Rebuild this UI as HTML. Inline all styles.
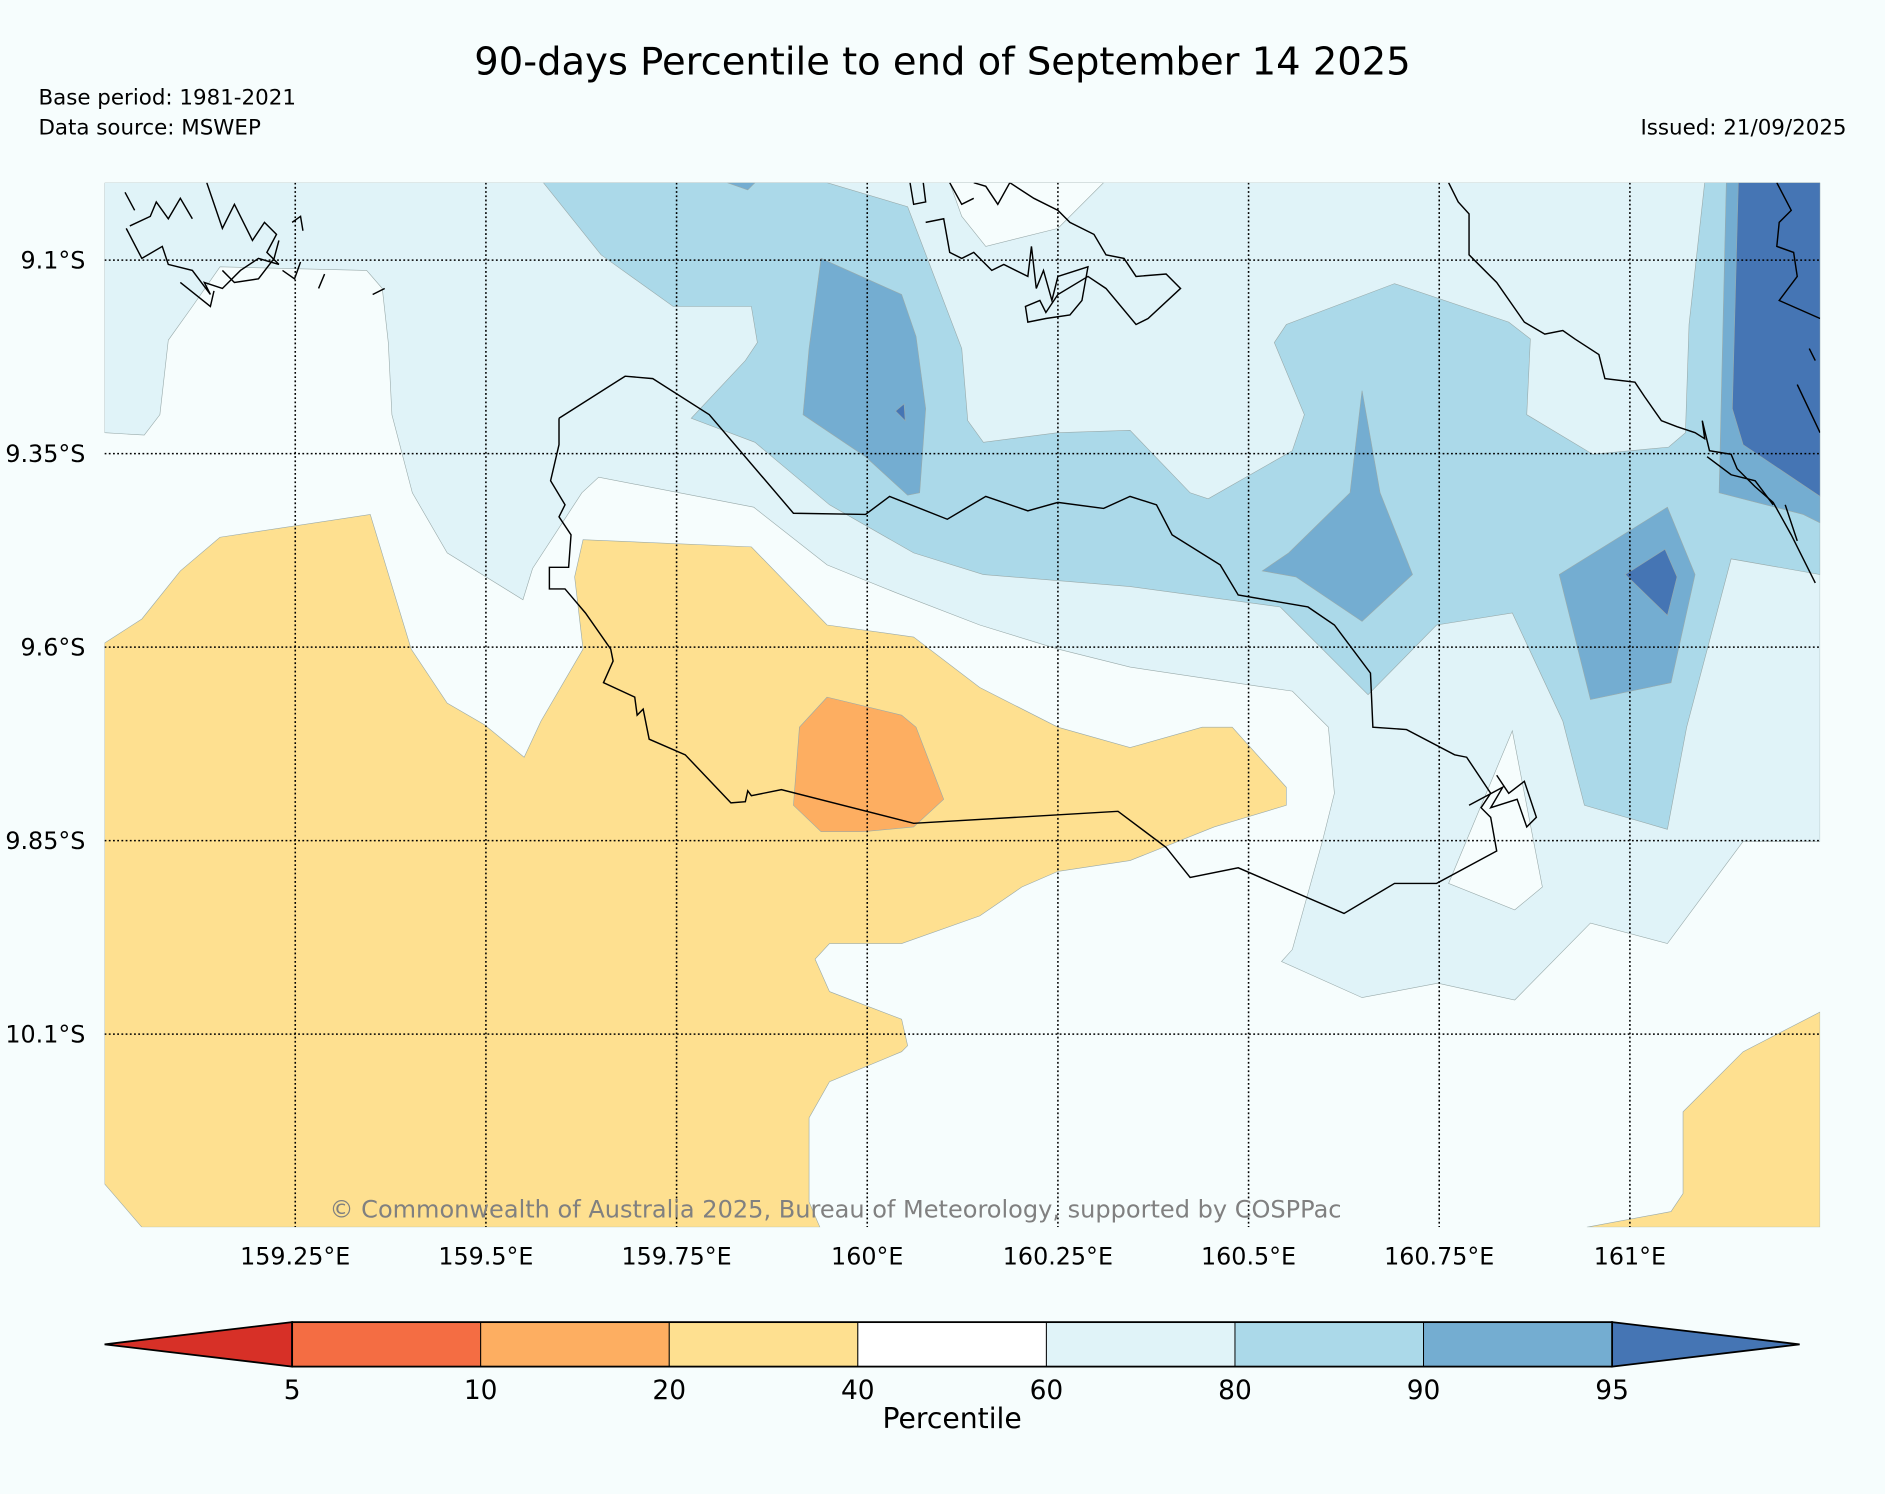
<!DOCTYPE html>
<html><head><meta charset="utf-8"><style>
html,body{margin:0;padding:0;background:#f6fdfd;}
svg{display:block;font-family:"DejaVu Sans","Liberation Sans",sans-serif;}
</style></head><body>
<svg id="chart" width="1885" height="1494" viewBox="0 0 1568 1243" preserveAspectRatio="none" xmlns="http://www.w3.org/2000/svg">
<rect x="0" y="0" width="1568" height="1243" fill="#f6fdfd"/>
<text x="784" y="62" text-anchor="middle" font-size="32" fill="#000">90-days Percentile to end of September 14 2025</text>
<text x="32" y="87" font-size="17.8" fill="#000">Base period: 1981-2021</text>
<text x="32" y="112" font-size="17.8" fill="#000">Data source: MSWEP</text>
<text x="1536" y="112" text-anchor="end" font-size="17.8" fill="#000">Issued: 21/09/2025</text>
<defs><clipPath id="mapclip"><rect x="87" y="152" width="1427" height="869"/></clipPath></defs>
<g id="map" clip-path="url(#mapclip)">
<rect x="87" y="152" width="1427" height="869" fill="#f6fdfd"/>
<g id="fills" stroke="#9aa" stroke-width="0.5"></g>
<g id="coasts" fill="none" stroke="#000" stroke-width="1.2"></g>
<g id="grid"></g>
</g>
<g id="ticks"></g>
<text x="695" y="1013" text-anchor="middle" font-size="20" fill="#808080">© Commonwealth of Australia 2025, Bureau of Meteorology, supported by COSPPac</text>
<g id="colorbar"></g>
<text x="792" y="1188" text-anchor="middle" font-size="23.5" fill="#000">Percentile</text>
</svg>
<script>
const lonTicks=[159.25,159.5,159.75,160,160.25,160.5,160.75,161];
const lonLabels=["159.25°E","159.5°E","159.75°E","160°E","160.25°E","160.5°E","160.75°E","161°E"];
const latTicks=[9.1,9.35,9.6,9.85,10.1];
const latLabels=["9.1°S","9.35°S","9.6°S","9.85°S","10.1°S"];
const bounds=[5,10,20,40,60,80,90,95];
const binColors=["#f46d43","#fdae61","#fee090","#ffffff","#e0f3f8","#abd9e9","#74add1"];
const underColor="#d73027", overColor="#4575b4";
const NS="http://www.w3.org/2000/svg";
function lonX(l){return 87+(l-159)*634.4;}
function latY(l){return 152+(l-9)*644;}
function mk(tag,attrs,parent){const e=document.createElementNS(NS,tag);for(const k in attrs)e.setAttribute(k,attrs[k]);parent.appendChild(e);return e;}
const fills=document.getElementById('fills');
const shapes=[
["band-60-80-fill","#e0f3f8","87,152 1514,152 1514,700 1450,700 1387,785 1323,768 1260,832 1196,818 1133,830 1066,800 1075,790 1100,700 1110,660 1105,605 1075,575 1040,570 940,555 880,540 815,520 745,493 688,470 627,422 498,397 484,410 443,473 435,499 372,460 343,410 326,345 323,285 318,240 305,225 183,222 160,255 140,283 133,345 120,362 87,360"],
["band-40-60-hole-north","#f6fdfd","790,152 800,180 820,205 880,190 918,152"],
["band-40-60-hole-east","#f6fdfd","1205,735 1258,608 1283,738 1260,757"],
["band-80-90-fill","#abd9e9","452,152 500,212 560,255 625,255 630,285 620,300 575,348 628,368 690,420 760,460 818,478 940,488 1065,505 1138,578 1195,520 1258,510 1300,600 1318,670 1387,690 1403,605 1440,465 1514,478 1514,152 1418,152 1405,270 1402,360 1388,372 1325,378 1270,345 1273,282 1255,268 1160,236 1070,270 1060,285 1085,345 1075,375 1005,415 990,410 940,358 880,360 818,368 805,350 800,290 755,172 688,152"],
["band-90-95-west","#74add1","683,215 750,245 762,280 770,340 765,410 755,412 720,380 668,345 673,290"],
["band-90-95-central","#74add1","1133,325 1148,410 1175,478 1133,517 1078,480 1050,475 1072,460 1123,410"],
["band-90-95-south-east","#74add1","1297,478 1387,422 1410,478 1390,568 1323,582"],
["band-90-95-east","#74add1","1436,152 1430,410 1500,428 1514,435 1514,152"],
["band-90-95-top","#74add1","605,152 628,152 622,158"],
["band-above-95-east","#4575b4","1446,152 1441,340 1450,370 1514,413 1514,152"],
["band-above-95-south-east","#4575b4","1352,478 1385,457 1395,480 1387,512"],
["band-above-95-small","#4575b4","745,342 752,336 753,350"],
["band-20-40-west","#fee090","87,535 118,515 150,475 183,447 308,428 342,540 372,585 403,603 436,630 450,600 485,540 478,480 485,449 625,455 688,520 760,530 815,572 880,605 940,622 1000,605 1025,605 1070,655 1070,670 1010,688 940,716 880,725 850,738 815,762 750,785 690,785 678,798 690,825 750,848 755,870 750,875 690,900 673,930 673,1000 682,1021 118,1021 87,985"],
["band-20-40-south-east","#fee090","1320,1021 1390,1008 1400,993 1400,925 1450,875 1514,842 1514,1021"],
["band-10-20-fill","#fdae61","688,580 750,595 762,605 785,665 760,688 718,692 683,692 660,670 665,605"]
];
shapes.forEach(s=>{const p=mk('polygon',{points:s[2],fill:s[1]},fills);

});
const coasts=document.getElementById('coasts');
const lines=[
["coastline-main-island","465,348 520,313 543,315 590,345 660,427 720,428 740,413 788,432 820,413 855,425 880,418 918,423 940,413 962,420 975,445 1015,470 1030,495 1088,505 1110,520 1140,560 1142,605 1170,607 1210,628 1220,630 1240,660 1232,672 1240,680 1245,708 1195,735 1160,735 1118,760 1030,722 990,730 970,705 930,675 760,685 650,657 625,662 622,658 620,667 608,668 570,628 540,615 535,590 530,595 528,580 502,568 510,550 508,540 487,510 470,490 457,490 457,472 473,472 475,445 465,430 470,420 458,400 465,370 465,348"],
["coastline-east-islet","1222,670 1250,655 1240,672 1262,665 1270,688 1278,680 1268,650 1255,660 1245,645"],
["coastline-north-west-islands","105,190 118,215 135,205 140,220 160,225 175,245 170,235 185,240 200,225 215,215 232,220 222,210 230,195 220,185 210,200 195,170 185,190 172,152 M160,182 150,165 140,182 130,168 125,180 108,188 M104,160 112,175 M150,235 175,255 178,242 M235,225 245,232 250,218 M265,240 270,228 M310,245 320,240 M243,185 250,180 252,192 M185,225 195,235 215,232 228,215 232,200"],
["coastline-north-central-island","757,152 760,170 770,168 768,152 M770,185 785,182 790,210 800,215 810,210 825,225 835,220 855,230 858,205 862,240 868,225 875,250 880,230 905,222 900,250 890,262 870,265 855,268 853,255 865,250 870,260 880,245 905,230 920,240 945,270 955,265 982,240 970,228 945,230 935,215 920,212 910,195 890,185 880,175 860,165 840,152 830,170 820,155 810,152 M790,152 800,170 810,165"],
["coastline-east-coast","1205,152 1213,168 1222,178 1222,212 1245,235 1268,268 1285,278 1300,275 1310,282 1330,295 1335,315 1360,318 1368,330 1382,350 1395,355 1410,360 1418,365 1416,350 1422,375 1440,378 1445,390 1460,405 1475,418 1490,445 1510,485"],
["coastline-far-east","1478,152 1490,175 1480,185 1478,205 1492,210 1495,230 1480,250 1514,265 M1505,290 1510,300 M1495,320 1514,360 M1420,380 1440,395 1460,400 1475,420 M1485,420 1495,450"]
];
lines.forEach(l=>{const p=mk('path',{d:'M'+l[1].replace(/M/g,' M ')},coasts);

});
const grid=document.getElementById('grid'), ticks=document.getElementById('ticks');
lonTicks.forEach((v,i)=>{const x=lonX(v);
const g=mk('line',{x1:x,x2:x,y1:152,y2:1021,stroke:'#000','stroke-width':1.3,'stroke-dasharray':'1.5,2'},grid);


const t=mk('text',{x:x,y:1052,'text-anchor':'middle','font-size':19.8,fill:'#000'},ticks);t.textContent=lonLabels[i];

});
latTicks.forEach((v,i)=>{const y=latY(v);
const g=mk('line',{x1:87,x2:1514,y1:y,y2:y,stroke:'#000','stroke-width':1.3,'stroke-dasharray':'1.5,2'},grid);


const t=mk('text',{x:71,y:y+7,'text-anchor':'end','font-size':19.8,fill:'#000'},ticks);t.textContent=latLabels[i];

});
const cb=document.getElementById('colorbar');
const cbL=243, cbR=1341, cbT=1100, cbB=1137, cbM=(cbT+cbB)/2;
function cbX(i){return cbL+i*(cbR-cbL)/(bounds.length-1);}
const under=mk('polygon',{points:`87,${cbM} ${cbL},${cbT} ${cbL},${cbB}`,fill:underColor,stroke:'#000','stroke-width':1.5},cb);


const over=mk('polygon',{points:`1497,${cbM} ${cbR},${cbT} ${cbR},${cbB}`,fill:overColor,stroke:'#000','stroke-width':1.5},cb);


binColors.forEach((c,i)=>{const r=mk('rect',{x:cbX(i),y:cbT,width:cbX(i+1)-cbX(i),height:cbB-cbT,fill:c,stroke:'#000','stroke-width':0.8},cb);

});
const frame=mk('rect',{x:cbL,y:cbT,width:cbR-cbL,height:cbB-cbT,fill:'none',stroke:'#000','stroke-width':1.5},cb);


bounds.forEach((b,i)=>{const t=mk('text',{x:cbX(i),y:1164,'text-anchor':'middle','font-size':22,fill:'#000'},cb);t.textContent=b;

});
</script>
</body></html>
